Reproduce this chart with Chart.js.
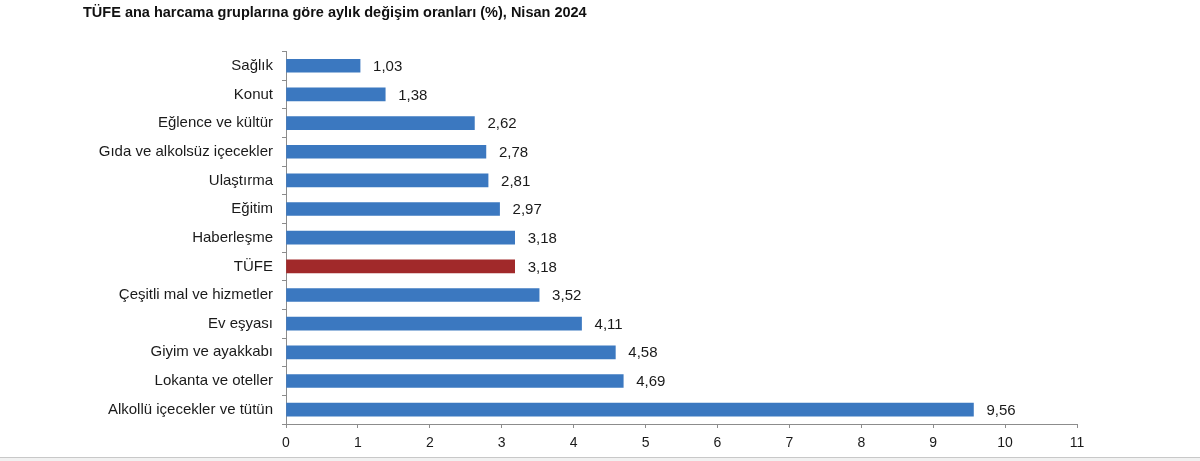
<!DOCTYPE html>
<html>
<head>
<meta charset="utf-8">
<script src="https://cdn.jsdelivr.net/npm/chart.js@4"></script>
<style>
  html, body { margin: 0; padding: 0; background: #fff; }
  #wrap { position: relative; width: 1200px; height: 457px; }
  #foot { width: 1200px; height: 4px; border-top: 1px solid #c8c8c8; background: #f1f1f1; }
</style>
</head>
<body>
<div id="wrap"><canvas id="chart"></canvas></div>
<div id="foot"></div>
<script>
// TÜFE ana harcama grupları, aylık değişim (%), Nisan 2024
var categories = ['Sağlık', 'Konut', 'Eğlence ve kültür', 'Gıda ve alkolsüz içecekler', 'Ulaştırma',
	'Eğitim', 'Haberleşme', 'TÜFE', 'Çeşitli mal ve hizmetler', 'Ev eşyası',
	'Giyim ve ayakkabı', 'Lokanta ve oteller', 'Alkollü içecekler ve tütün'];
var values = [1.03, 1.38, 2.62, 2.78, 2.81, 2.97, 3.18, 3.18, 3.52, 4.11, 4.58, 4.69, 9.56];
var highlight = 'TÜFE';
var xTicks = [0, 1, 2, 3, 4, 5, 6, 7, 8, 9, 10, 11];

var blue = '#3b78c0';
var red = '#a1292a';
var font = '"Liberation Sans", Arial, sans-serif';

var colors = categories.map(function (c) { return c === highlight ? red : blue; });

// draw the value at the end of every bar, with a decimal comma
var valueLabels = {
	id: 'valueLabels',
	afterDatasetsDraw: function (chart) {
		var ctx = chart.ctx;
		var meta = chart.getDatasetMeta(0);
		ctx.save();
		ctx.font = '15px ' + font;
		ctx.fillStyle = '#1a1a1a';
		ctx.textBaseline = 'middle';
		ctx.textAlign = 'left';
		for (var i = 0; i < meta.data.length; i++) {
			var bar = meta.data[i];
			ctx.fillText(values[i].toFixed(2).replace('.', ','), bar.x + 13, bar.y + 1);
		}
		ctx.restore();
	}
};

new Chart(document.getElementById('chart'), {
	type: 'bar',
	data: {
		labels: categories,
		datasets: [{
			data: values,
			backgroundColor: colors,
			barThickness: 13
		}]
	},
	options: {
		indexAxis: 'y',
		responsive: true,
		maintainAspectRatio: false,
		animation: false,
		layout: { padding: { left: 83, right: 123, top: 0, bottom: 0 } },
		plugins: {
			legend: { display: false },
			tooltip: { enabled: false },
			title: {
				display: true,
				text: 'TÜFE ana harcama gruplarına göre aylık değişim oranları (%), Nisan 2024',
				align: 'start',
				color: '#111',
				font: { family: font, size: 14.5, weight: 'bold' },
				padding: { top: 4, bottom: 30 }
			}
		},
		scales: {
			x: {
				min: 0,
				max: 11,
				afterBuildTicks: function (axis) {
					axis.ticks = xTicks.map(function (v) { return { value: v }; });
				},
				afterFit: function (axis) { axis.height = 33; },
				grid: { drawOnChartArea: false, tickLength: 4, color: '#8c8c8c' },
				border: { color: '#8c8c8c' },
				ticks: { color: '#1a1a1a', padding: 7, font: { family: font, size: 14 } }
			},
			y: {
				afterFit: function (axis) { axis.width = 203; },
				grid: { drawOnChartArea: false, tickLength: 4, color: '#8c8c8c', offset: true },
				border: { color: '#8c8c8c' },
				ticks: { color: '#1a1a1a', padding: 9, autoSkip: false, font: { family: font, size: 15 } }
			}
		}
	},
	plugins: [valueLabels]
});
</script>
</body>
</html>
